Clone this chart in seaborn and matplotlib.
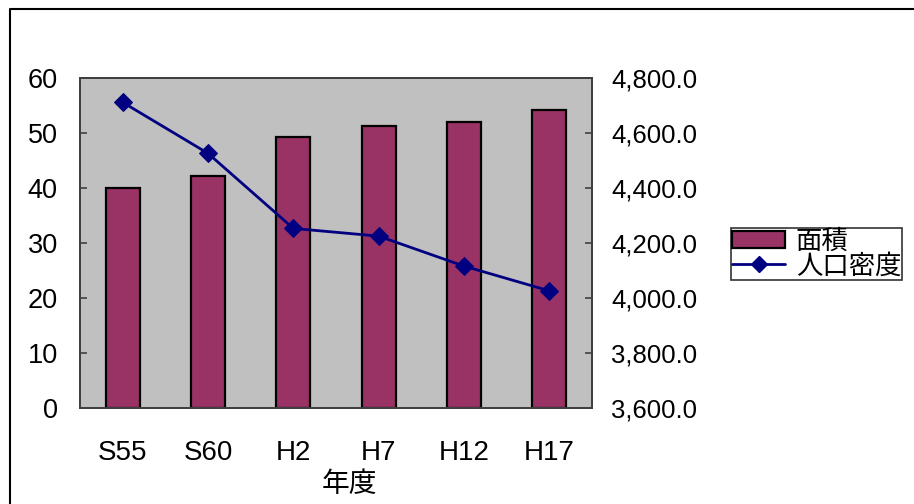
import numpy as np
import pandas as pd
import matplotlib
matplotlib.use("Agg")
import matplotlib.pyplot as plt
from matplotlib.lines import Line2D
from matplotlib.patches import Patch
import seaborn as sns

# Fiscal years, area (left axis) and population density (right axis)
years = ["S55", "S60", "H2", "H7", "H12", "H17"]
area = [40.0, 42.2, 49.2, 51.3, 52.0, 54.1]
density = [4711.6, 4526.0, 4253.0, 4225.0, 4116.0, 4026.0]

left_ticks = [0, 10, 20, 30, 40, 50, 60]
right_ticks = [3600, 3800, 4000, 4200, 4400, 4600, 4800]

sns.set_style("white")
plt.rcParams["font.family"] = ["Liberation Sans", "Noto Sans CJK JP", "DejaVu Sans"]
plt.rcParams["text.color"] = "black"
plt.rcParams["xtick.labelcolor"] = "black"
plt.rcParams["ytick.labelcolor"] = "black"
plt.rcParams["axes.labelcolor"] = "black"

BAR = "#993366"
LINE = "#000080"

df = pd.DataFrame({"年度": years, "面積": area, "人口密度": density,
                   "pos": np.arange(len(years))})

fig = plt.figure(figsize=(9.14, 5.04), dpi=100)
ax = fig.add_axes([80 / 914, 1 - 408 / 504, 512 / 914, 330 / 504])
ax.set_facecolor("#C0C0C0")

sns.barplot(data=df, x="年度", y="面積", color=BAR, width=0.4,
            edgecolor="black", linewidth=1.6, saturation=1, ax=ax)
ax.set_xlim(-0.5, len(years) - 0.5)
ax.set_ylim(left_ticks[0], left_ticks[-1])
ax.set_yticks(left_ticks)
ax.set_yticklabels([str(t) for t in left_ticks])

ax2 = ax.twinx()
sns.lineplot(data=df, x="pos", y="人口密度", color=LINE, linewidth=2,
             marker="D", markersize=9, markeredgecolor=LINE, ax=ax2)
ax2.set_ylim(right_ticks[0], right_ticks[-1])
ax2.set_yticks(right_ticks)
ax2.set_yticklabels([f"{t:,.1f}" for t in right_ticks])
ax2.set_xlim(-0.5, len(years) - 0.5)

for a in (ax, ax2):
    for s in a.spines.values():
        s.set_color("#404040")
        s.set_linewidth(1.4)
    a.set_ylabel("")

ax.set_xlabel("年度", fontsize=20, color="black")
ax.xaxis.set_label_coords(0.527, -0.195)
ax.tick_params(axis="x", which="major", length=0, pad=23, labelsize=20,
               labelcolor="black")
ax.set_xticks(np.arange(len(years)) + 0.5, minor=True)
ax.tick_params(axis="x", which="minor", direction="in", length=4,
               width=1.2, color="#404040")
ax.tick_params(axis="y", direction="in", length=5, width=1.2,
               color="#404040", pad=16, labelsize=19.5, labelcolor="black")
ax2.tick_params(axis="y", direction="in", length=5, width=1.2,
                color="#404040", pad=14, labelsize=18.5, labelcolor="black")
ax2.set_xlabel("")

# Legend
handles = [Patch(facecolor=BAR, edgecolor="black", linewidth=1.6),
           Line2D([], [], color=LINE, linewidth=2, marker="D", markersize=8)]
leg = fig.legend(handles, ["面積", "人口密度"], loc="upper left",
                 bbox_to_anchor=(731 / 914, 1 - 228 / 504), fontsize=19,
                 frameon=True, fancybox=False, borderpad=0.05,
                 handlelength=2.0, handleheight=0.6, handletextpad=0.4,
                 labelspacing=0.0, borderaxespad=0)
leg.get_frame().set_edgecolor("black")
leg.get_frame().set_linewidth(1.2)
for t in leg.get_texts():
    t.set_color("black")

# Chart area border (left and top edges)
fig.add_artist(Line2D([9.5 / 914, 9.5 / 914, 1.0], [0.0, 1 - 8.5 / 504, 1 - 8.5 / 504],
                      transform=fig.transFigure, color="black", linewidth=1.5))

fig.savefig("out.png", dpi=100)
